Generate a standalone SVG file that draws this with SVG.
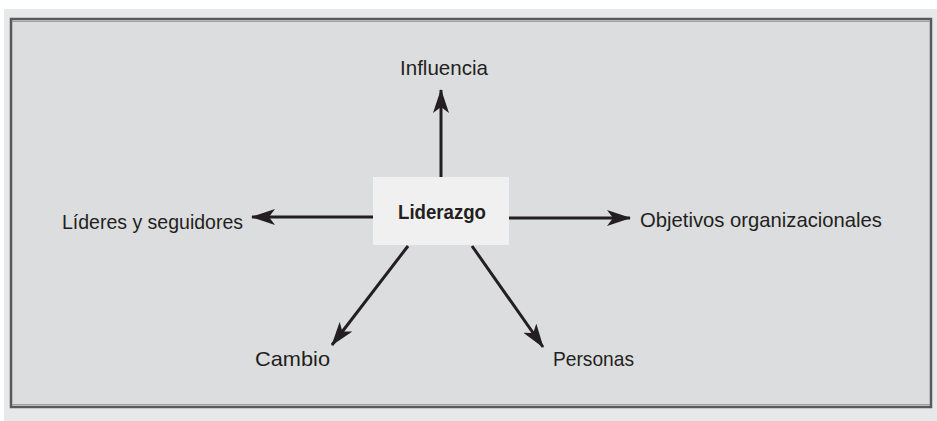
<svg xmlns="http://www.w3.org/2000/svg" width="937" height="421" viewBox="0 0 937 421">
<style>
.lbl{font-family:"Liberation Sans",Arial,sans-serif;font-size:21px;fill:#231f20}
.conn line{stroke:#231f20;stroke-width:3}
</style>
<defs>
<marker id="ah" viewBox="0 0 24 16" refX="23" refY="8" markerWidth="24" markerHeight="16" markerUnits="userSpaceOnUse" orient="auto">
<path d="M0,0 L24,8 L0,16 L6,8 Z" fill="#231f20"/>
</marker>
</defs>
<rect x="0" y="0" width="937" height="421" fill="#ffffff"/>
<rect x="4" y="9" width="933" height="412" fill="#e7e8e9"/>
<rect x="11" y="19" width="920" height="388" fill="#dcdddf" stroke="#58595b" stroke-width="2.5"/>
<line x1="12" y1="21.5" x2="930" y2="21.5" stroke="#9d9ea0" stroke-width="1"/>
<line x1="12" y1="404.5" x2="930" y2="404.5" stroke="#9d9ea0" stroke-width="1"/>
<g class="conn">
<line x1="441" y1="177" x2="441" y2="90" marker-end="url(#ah)"/>
<line x1="373" y1="217" x2="252" y2="217" marker-end="url(#ah)"/>
<line x1="509" y1="218" x2="630" y2="218" marker-end="url(#ah)"/>
<line x1="408" y1="246" x2="332" y2="345" marker-end="url(#ah)"/>
<line x1="472" y1="246" x2="543" y2="347" marker-end="url(#ah)"/>
</g>
<g id="center">
<rect x="373" y="177" width="136" height="68" fill="#f0f0f0"/>
<text x="442" y="219" text-anchor="middle" class="lbl" style="font-weight:bold" textLength="88" lengthAdjust="spacingAndGlyphs">Liderazgo</text>
</g>
<g id="influencia"><text x="444" y="75" text-anchor="middle" class="lbl" textLength="88" lengthAdjust="spacingAndGlyphs">Influencia</text></g>
<g id="lideres"><text x="62" y="229" class="lbl" textLength="181" lengthAdjust="spacingAndGlyphs">Líderes y seguidores</text></g>
<g id="objetivos"><text x="640" y="227" class="lbl" textLength="242" lengthAdjust="spacingAndGlyphs">Objetivos organizacionales</text></g>
<g id="cambio"><text x="255" y="366" class="lbl" textLength="75" lengthAdjust="spacingAndGlyphs">Cambio</text></g>
<g id="personas"><text x="553" y="366" class="lbl" textLength="81" lengthAdjust="spacingAndGlyphs">Personas</text></g>
</svg>
